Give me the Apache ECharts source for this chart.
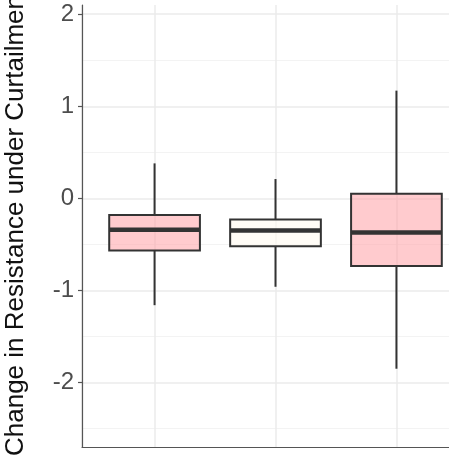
<!DOCTYPE html>
<html>
<head>
<meta charset="utf-8">
<script src="https://cdn.jsdelivr.net/npm/echarts@6/dist/echarts.min.js"></script>
<style>
  html, body { margin: 0; padding: 0; background: #fff; }
  #chart { width: 449px; height: 458px; }
</style>
</head>
<body>
<div id="chart"></div>
<script>
// one box per group, x positions 1..3
const positions = [1, 2, 3];
const lowWhisker = [-1.16, -0.96, -1.85];
const q1 = [-0.565, -0.52, -0.735];
const median = [-0.34, -0.35, -0.37];
const q3 = [-0.18, -0.23, 0.05];
const highWhisker = [0.38, 0.21, 1.17];
const fills = ['rgba(255,160,166,0.55)', 'rgba(255,250,240,0.6)', 'rgba(255,160,166,0.55)'];
const yTicks = [-2, -1, 0, 1, 2];

const font = "'Liberation Sans', Arial, sans-serif";

const boxData = positions.map((x, i) => [x, lowWhisker[i], q1[i], median[i], q3[i], highWhisker[i]]);

const chart = echarts.init(document.getElementById('chart'));

const renderBox = (params, api) => {
  const x = api.value(0);
  const idx = params.dataIndex;
  const halfW = api.size([0.75, 0])[0] / 2;
  const pLow = api.coord([x, api.value(1)]);
  const pQ1 = api.coord([x, api.value(2)]);
  const pMed = api.coord([x, api.value(3)]);
  const pQ3 = api.coord([x, api.value(4)]);
  const pHigh = api.coord([x, api.value(5)]);
  const stroke = '#333333';
  return {
    type: 'group',
    children: [
      {
        type: 'line',
        shape: { x1: pQ3[0], y1: pQ3[1], x2: pHigh[0], y2: pHigh[1] },
        style: { stroke, lineWidth: 2 }
      },
      {
        type: 'line',
        shape: { x1: pLow[0], y1: pLow[1], x2: pQ1[0], y2: pQ1[1] },
        style: { stroke, lineWidth: 2 }
      },
      {
        type: 'rect',
        shape: { x: pQ3[0] - halfW, y: pQ3[1], width: halfW * 2, height: pQ1[1] - pQ3[1] },
        style: { fill: fills[idx], stroke, lineWidth: 2 }
      },
      {
        type: 'line',
        shape: { x1: pMed[0] - halfW, y1: pMed[1], x2: pMed[0] + halfW, y2: pMed[1] },
        style: { stroke, lineWidth: 4.5 }
      }
    ]
  };
};

const option = {
  animation: false,
  backgroundColor: '#ffffff',
  grid: { left: 82, top: 5, width: 387, height: 442, containLabel: false, outerBoundsMode: 'none' },
  xAxis: {
    type: 'value',
    min: 0.4,
    max: 3.6,
    splitNumber: 3,
    axisLine: { show: true, onZero: false, lineStyle: { color: '#555555', width: 1.2 } },
    axisTick: { show: false },
    axisLabel: { show: false },
    splitLine: { show: true, lineStyle: { color: '#ebebeb', width: 1.5 } }
  },
  yAxis: {
    type: 'value',
    min: -2.7,
    max: 2.1,
    axisLine: { show: true, lineStyle: { color: '#555555', width: 1.2 } },
    axisTick: { show: true, length: 4, customValues: yTicks, lineStyle: { color: '#555555', width: 1.2 } },
    axisLabel: {
      customValues: yTicks,
      margin: 8,
      color: '#4d4d4d',
      fontSize: 24,
      fontFamily: font
    },
    splitLine: { show: true, lineStyle: { color: '#ebebeb', width: 1.5 } },
    minorTick: { show: false, splitNumber: 2 },
    minorSplitLine: { show: true, lineStyle: { color: '#f3f3f3', width: 1 } }
  },
  graphic: [
    {
      type: 'text',
      x: 16,
      y: 456,
      rotation: Math.PI / 2,
      style: {
        text: 'Change in Resistance under Curtailment',
        fill: '#111111',
        fontSize: 26,
        fontFamily: font,
        align: 'left',
        verticalAlign: 'middle'
      }
    }
  ],
  series: [
    {
      type: 'custom',
      renderItem: renderBox,
      data: boxData,
      encode: { x: 0, y: [1, 2, 3, 4, 5] },
      clip: false
    }
  ]
};

chart.setOption(option);
</script>
</body>
</html>
